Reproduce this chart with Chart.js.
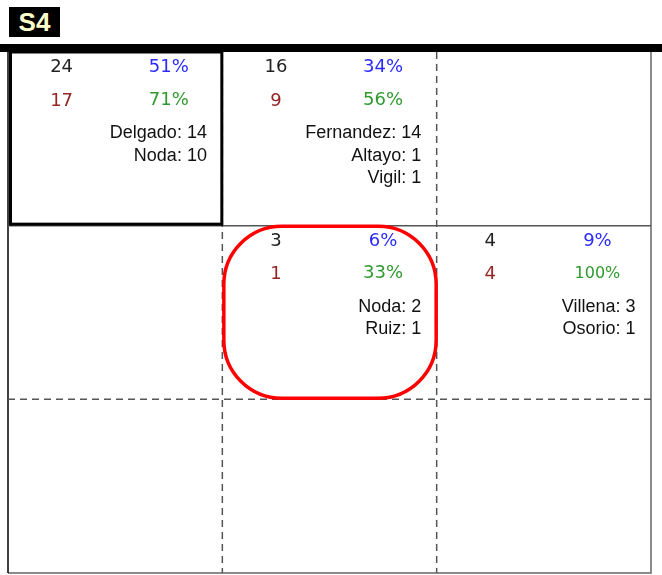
<!DOCTYPE html>
<html>
<head>
<meta charset="utf-8">
<script src="https://cdn.jsdelivr.net/npm/chart.js@4.4.1/dist/chart.umd.min.js"></script>
<style>
  body { margin: 0; background: #fff; }
  #wrap { position: relative; width: 662px; height: 575px; }
  #tag {
    position: absolute; left: 9px; top: 7px; width: 51px; height: 30px;
    background: #000; color: #ffffcc; text-align: center;
    font: bold 26px "Liberation Sans", Arial, sans-serif; line-height: 31px;
  }
  canvas { position: absolute; left: 0; top: 0; }
</style>
</head>
<body>
<div id="wrap">
  <canvas id="grid" width="662" height="575"></canvas>
  <div id="tag">S4</div>
</div>
<script>
// one entry per filled cell
const cellRow = [0, 0, 1, 1];
const cellCol = [0, 1, 1, 2];
const totals = [24, 16, 3, 4];
const totalShare = ['51%', '34%', '6%', '9%'];
const passed = [17, 9, 1, 4];
const passShare = ['71%', '56%', '33%', '100%'];
const names = [
    ['Delgado: 14', 'Noda: 10'],
    ['Fernandez: 14', 'Altayo: 1', 'Vigil: 1'],
    ['Noda: 2', 'Ruiz: 1'],
    ['Villena: 3', 'Osorio: 1']
];
const boxedCell = [0, 0];    // row, col
const circledCell = [1, 1];  // row, col
const nRows = 3;
const nCols = 3;

const numFont = '18px "DejaVu Sans", sans-serif';
const nameFont = '18px "Liberation Sans", Arial, sans-serif';

const cellPlugin = {
    id: 'cells',
    beforeDatasetsDraw(chart) {
        const ctx = chart.ctx;
        const x = chart.scales.x;
        const y = chart.scales.y;
        const area = chart.chartArea;
        ctx.save();

        // thick bar above the grid
        ctx.fillStyle = '#000';
        ctx.fillRect(0, area.top - 8, chart.width, 8);

        // outer frame
        ctx.lineWidth = 1.5;
        ctx.strokeStyle = '#666';
        ctx.beginPath();
        ctx.moveTo(area.right, area.top);
        ctx.lineTo(area.right, area.bottom);
        ctx.lineTo(area.left, area.bottom);
        ctx.stroke();
        ctx.strokeStyle = '#000';
        ctx.beginPath();
        ctx.moveTo(area.left, area.top);
        ctx.lineTo(area.left, area.bottom);
        ctx.stroke();

        // row lines: first solid, rest dashed
        ctx.strokeStyle = '#555';
        for (let r = 1; r < nRows; r++) {
            const py = y.getPixelForValue(r);
            ctx.setLineDash(r === 1 ? [] : [7, 5]);
            ctx.beginPath();
            ctx.moveTo(area.left, py);
            ctx.lineTo(area.right, py);
            ctx.stroke();
        }
        // column lines dashed
        ctx.setLineDash([7, 5]);
        for (let c = 1; c < nCols; c++) {
            const px = x.getPixelForValue(c);
            ctx.beginPath();
            ctx.moveTo(px, area.top);
            ctx.lineTo(px, area.bottom);
            ctx.stroke();
        }
        ctx.setLineDash([]);

        // cell texts
        ctx.textBaseline = 'middle';
        for (let i = 0; i < totals.length; i++) {
            const r = cellRow[i];
            const c = cellCol[i];
            const cx1 = x.getPixelForValue(c + 0.25);
            const cx2 = x.getPixelForValue(c + 0.75);
            const rx = x.getPixelForValue(c + 0.928);
            ctx.font = numFont;
            ctx.textAlign = 'center';
            ctx.fillStyle = '#222';
            ctx.fillText(String(totals[i]), cx1, y.getPixelForValue(r + 0.09));
            ctx.fillStyle = '#2b2bff';
            ctx.fillText(totalShare[i], cx2, y.getPixelForValue(r + 0.09));
            ctx.fillStyle = '#962424';
            ctx.fillText(String(passed[i]), cx1, y.getPixelForValue(r + 0.283));
            ctx.fillStyle = '#2f9a2f';
            if (passShare[i].length > 3) ctx.font = '16px "DejaVu Sans", sans-serif';
            ctx.fillText(passShare[i], cx2, y.getPixelForValue(r + 0.277));
            ctx.font = nameFont;
            ctx.textAlign = 'right';
            ctx.fillStyle = '#111';
            names[i].forEach((nm, k) => {
                ctx.fillText(nm, rx, y.getPixelForValue(r + 0.468 + k * 0.13));
            });
        }

        // highlighted cells
        ctx.lineWidth = 3;
        ctx.strokeStyle = '#000';
        const bx0 = x.getPixelForValue(boxedCell[1]);
        const bx1 = x.getPixelForValue(boxedCell[1] + 1);
        const by0 = y.getPixelForValue(boxedCell[0]);
        const by1 = y.getPixelForValue(boxedCell[0] + 1);
        ctx.strokeRect(bx0 + 2.5, by0, bx1 - bx0 - 3, by1 - by0 - 1.5);

        ctx.lineWidth = 3.5;
        ctx.strokeStyle = '#ff0000';
        const rx0 = x.getPixelForValue(circledCell[1]) + 1.5;
        const rx1 = x.getPixelForValue(circledCell[1] + 1) - 0.5;
        const ry0 = y.getPixelForValue(circledCell[0]) + 0.5;
        const ry1 = y.getPixelForValue(circledCell[0] + 1) - 1;
        ctx.beginPath();
        ctx.roundRect(rx0, ry0, rx1 - rx0, ry1 - ry0, 58);
        ctx.stroke();

        ctx.restore();
    }
};

new Chart(document.getElementById('grid'), {
    type: 'scatter',
    data: {
        datasets: [{
            data: cellRow.map((r, i) => ({ x: cellCol[i] + 0.5, y: r + 0.5 })),
            pointRadius: 0
        }]
    },
    options: {
        responsive: false,
        animation: false,
        events: [],
        layout: { padding: { left: 8, right: 11, top: 52, bottom: 2 } },
        scales: {
            x: { display: false, min: 0, max: nCols },
            y: { display: false, min: 0, max: nRows, reverse: true }
        },
        plugins: { legend: { display: false }, tooltip: { enabled: false } }
    },
    plugins: [cellPlugin]
});
</script>
</body>
</html>
